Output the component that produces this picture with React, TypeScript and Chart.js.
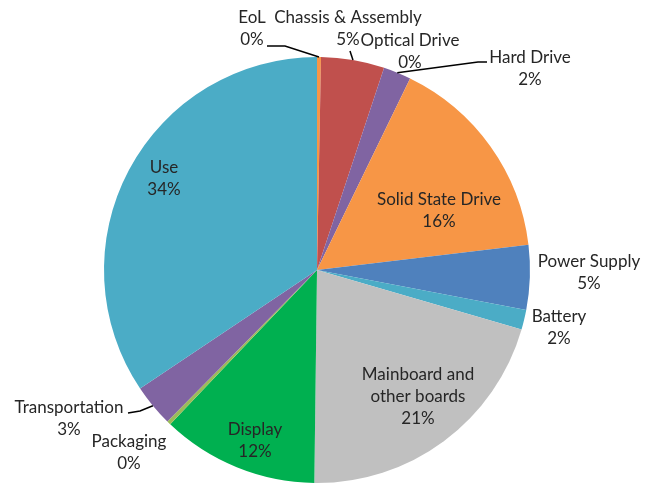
import React, { useEffect, useRef } from "react";
import { Chart, registerables } from "chart.js";

Chart.register(...registerables);

const categories = [
  "EoL",
  "Chassis & Assembly",
  "Optical Drive",
  "Hard Drive",
  "Solid State Drive",
  "Power Supply",
  "Battery",
  "Mainboard and|other boards",
  "Display",
  "Packaging",
  "Transportation",
  "Use",
];
const shares = [0.3, 4.8, 0.0, 2.1, 15.9, 4.9, 1.5, 20.7, 11.9, 0.3, 3.2, 34.4];
const colors = [
  "#F79646",
  "#C0504D",
  "#9BBB59",
  "#8064A2",
  "#F79646",
  "#4F81BD",
  "#4BACC6",
  "#C0C0C0",
  "#00B050",
  "#9BBB59",
  "#8064A2",
  "#4BACC6",
];

// label centres (first line) in canvas pixels, and leader line waypoints
const labelPos: [number, number][] = [
  [252, 18],
  [348, 18],
  [410, 41],
  [530, 58],
  [439, 200],
  [589, 262],
  [559, 317],
  [418, 375],
  [255, 430],
  [129, 442],
  [69, 408],
  [164, 168],
];
const leaders: ([number, number][] | null)[] = [
  [[267, 46], [285, 46]],
  [[350, 51]],
  null,
  [[487, 62], [478, 62]],
  null,
  null,
  null,
  null,
  null,
  null,
  [[128, 413], [140, 411]],
  null,
];

const FONT = "17px Lato, 'Open Sans', sans-serif";
const LINE_H = 22;

const labelPlugin = {
  id: "sliceLabels",
  afterDatasetsDraw(chart: any) {
    const ctx = chart.ctx as CanvasRenderingContext2D;
    const meta = chart.getDatasetMeta(0);
    const data = chart.data.datasets[0].data as number[];
    const total = data.reduce((a, b) => a + b, 0);
    ctx.save();
    ctx.strokeStyle = "#000000";
    ctx.lineWidth = 1.5;
    meta.data.forEach((arc: any, i: number) => {
      const pts = leaders[i];
      if (!pts) return;
      const p = arc.getProps(["x", "y", "startAngle", "endAngle", "outerRadius"], true);
      const mid = (p.startAngle + p.endAngle) / 2;
      const ex = p.x + Math.cos(mid) * p.outerRadius;
      const ey = p.y + Math.sin(mid) * p.outerRadius;
      ctx.beginPath();
      ctx.moveTo(pts[0][0], pts[0][1]);
      for (let k = 1; k < pts.length; k++) ctx.lineTo(pts[k][0], pts[k][1]);
      ctx.lineTo(ex, ey);
      ctx.stroke();
    });
    ctx.fillStyle = "#262626";
    ctx.font = FONT;
    ctx.textAlign = "center";
    ctx.textBaseline = "middle";
    categories.forEach((name, i) => {
      const lines = name.split("|");
      lines.push(Math.round((data[i] / total) * 100) + "%");
      const [x, y] = labelPos[i];
      lines.forEach((ln, k) => ctx.fillText(ln, x, y + k * LINE_H));
    });
    ctx.restore();
  },
};

export default function App() {
  const ref = useRef<HTMLCanvasElement>(null);
  useEffect(() => {
    if (!ref.current) return;
    const chart = new Chart(ref.current, {
      type: "pie",
      data: {
        labels: categories.map((c) => c.replace("|", " ")),
        datasets: [
          {
            data: shares,
            backgroundColor: colors,
            borderWidth: 0,
          },
        ],
      },
      options: {
        responsive: false,
        animation: false,
        devicePixelRatio: 1,
        layout: { padding: { left: 0, right: 21, top: 57, bottom: 1 } },
        plugins: {
          legend: { display: false },
          tooltip: { enabled: false },
        },
      },
      plugins: [labelPlugin],
    });
    return () => chart.destroy();
  }, []);
  return (
    <div style={{ position: "fixed", left: 0, top: 0, width: 655, height: 484, background: "#fff" }}>
      <canvas ref={ref} width={655} height={484} />
    </div>
  );
}
